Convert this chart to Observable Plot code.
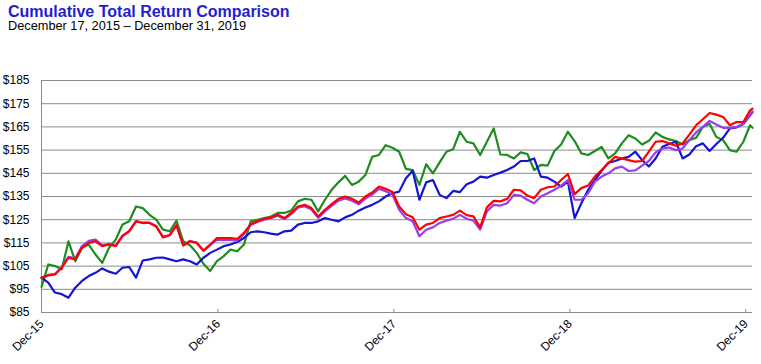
<!DOCTYPE html>
<html><head><meta charset="utf-8">
<script src="https://cdn.jsdelivr.net/npm/d3@7"></script>
<script src="https://cdn.jsdelivr.net/npm/@observablehq/plot@0.6"></script>
<style>
body{margin:0;background:#fff;font-family:"Liberation Sans",Arial,sans-serif;}
#wrap{position:relative;width:761px;height:364px;overflow:hidden;background:#fff}
#title{position:absolute;left:8px;top:3.5px;font-size:16px;line-height:16px;font-weight:bold;color:#1f1fd0;white-space:nowrap}
#sub{position:absolute;left:8px;top:20px;font-size:12.75px;line-height:12.75px;color:#000;white-space:nowrap}
#chart{position:absolute;left:0;top:36px}
</style></head><body>
<div id="wrap"><div id="title">Cumulative Total Return Comparison</div><div id="sub">December 17, 2015 – December 31, 2019</div><div id="chart"></div></div>
<script>
// Values sampled every 14 days from Dec 17, 2015; last value is Dec 31, 2019
const greenValues = [96, 105.7, 105, 103.6, 115.7, 107.1, 112.9, 114.3, 110, 106.4, 112.9, 116.4, 122.9, 124.3, 130.7, 130, 127.1, 125,
  120.7, 120, 124.6, 115.7, 114, 110.7, 106, 102.9, 107.1, 109.3, 112.1, 111.4, 114.3, 124.3, 125, 125.7, 126.4, 127.9,
  127.9, 128.9, 132.9, 134, 133.6, 128.6, 133.6, 137.9, 141.1, 143.9, 140, 141.4, 144.3, 152.1, 152.9, 157.1, 156,
  154.3, 146.9, 146.4, 140, 148.9, 145, 149.7, 154.3, 155.4, 162.9, 158.6, 157.9, 152.9, 158.6, 164.3, 153.1, 152.9, 151.4,
  154, 153.3, 146.4, 148.6, 148.3, 154.6, 157.4, 162.9, 158.9, 153.6, 152.9, 154.6, 156.4, 151.4, 153.6, 157.9, 161.4,
  160, 157.4, 159, 162.6, 160.7, 159.6, 158.9, 157.4, 159.3, 160.3, 165, 166.4, 160.7, 159.3, 155, 154.3, 158.6, 165.7, 164.6];
const blueValues = [100, 97.9, 93.6, 92.9, 91.4, 95.7, 98.6, 100.7, 102.1, 104, 102.6, 101.7, 104.3, 104.6, 100, 107.4, 107.9, 108.6,
  108.7, 107.9, 107.1, 107.9, 107.1, 105.7, 108.6, 110.7, 112.1, 113.6, 114.3, 115.4, 117.1, 119.6, 120, 119.6, 119, 118.6,
  120, 120.3, 122.9, 123.6, 123.6, 124.3, 125.7, 125, 124.3, 126, 127.1, 128.9, 130.3, 131.4, 132.9, 135, 136.4,
  137.1, 142.9, 146.1, 133.6, 141.1, 142.1, 135.7, 134.3, 137.4, 136.9, 140.3, 141.4, 143.6, 143.1, 144.3, 145.3, 146.4, 147.9,
  150.3, 150.3, 151.4, 143.6, 143.1, 141.4, 139.3, 141.4, 125.7, 132.1, 137.9, 142.1, 146.1, 149.6, 150.3, 151.4, 152.1,
  154.3, 150.7, 147.9, 151.4, 156.4, 157.6, 158.6, 151.4, 153.1, 156.7, 157.9, 154.6, 157.6, 160.3, 164.4, 164.8, 166.2, 170, 171.4];
const purpleValues = [100, 101.2, 101.6, 104.6, 109, 108.4, 113.6, 115.9, 116.4, 114, 114.6, 113.9, 118.1, 120.2, 124.4, 123.7, 123.7, 122.3,
  117.6, 118.4, 122.7, 114, 115.8, 115.1, 111.6, 114, 116.4, 116.3, 116.3, 116, 118.8, 122.7, 124, 125, 125.6, 126.7,
  125.3, 127.4, 130.2, 130.8, 129.4, 125.8, 128.6, 131, 133.2, 134.2, 133.2, 131.6, 134.1, 135.8, 138.3, 137.3, 135.8,
  129.3, 125.7, 124.3, 117.9, 120.7, 121.7, 123.6, 124.6, 125.4, 127.1, 125.4, 124.6, 120.7, 128.6, 131.4, 131.1, 132.1, 135.7,
  135.4, 133.6, 132.1, 135, 136.4, 137.9, 139.7, 142.1, 133.6, 133.6, 136.4, 141.4, 143.6, 145, 147.1, 147.9, 146,
  146.3, 148.3, 150.3, 154, 155.7, 156.1, 155, 155.7, 159.3, 162.6, 165, 167.6, 166, 164.6, 164.6, 165, 166.4, 170.3, 171.7];
const redValues = [100, 101, 101.4, 104.3, 108.6, 107.9, 112.9, 115, 115.7, 113.6, 114.3, 113.6, 117.9, 120, 124.3, 123.6, 123.6, 122.1,
  117.4, 118.3, 122.6, 113.9, 115.7, 115, 111.7, 114.3, 117.1, 117.1, 117.1, 116.7, 119.3, 123.1, 124.3, 125.4, 126, 127.1,
  125.7, 127.9, 130.7, 131.4, 130, 126.4, 129.3, 131.7, 134, 135, 134, 132.4, 135, 136.7, 139.3, 138.3, 136.9,
  130.7, 127.4, 126.1, 120.7, 122.9, 123.6, 125.7, 126.4, 127.1, 128.9, 127, 126.4, 121.7, 130.3, 133.1, 132.9, 134, 137.9,
  137.6, 135.4, 134.3, 137.9, 139, 139.3, 142.1, 144.7, 136, 138.6, 139.7, 143.6, 146.4, 149.3, 152.1, 151.4, 150.7,
  150, 150.3, 154.3, 158.6, 158.9, 157.9, 156.9, 157.9, 161.7, 165.7, 168.3, 171, 170.3, 169.3, 165.7, 167.1, 167.1, 172.1, 172.9];

const yTicks = [85, 95, 105, 115, 125, 135, 145, 155, 165, 175, 185];
const xLabels = ["Dec-15", "Dec-16", "Dec-17", "Dec-18", "Dec-19"];

const series = [
  {name: "green", values: greenValues, color: "#1e8c1e"},
  {name: "blue", values: blueValues, color: "#1414d2"},
  {name: "purple", values: purpleValues, color: "#9a3cf0"},
  {name: "red", values: redValues, color: "#ff0000"}
];

const start = new Date(Date.UTC(2015, 11, 17));
const end = new Date(Date.UTC(2019, 11, 31));
const n = greenValues.length;
const dates = d3.range(n).map(i => i < n - 1 ? d3.utcDay.offset(start, 14 * i) : end);
const xTickDates = xLabels.map((_, i) => new Date(Date.UTC(2015 + i, 11, 17)));

const lineMarks = series.map(s =>
  Plot.line(s.values.map((v, i) => ({date: dates[i], value: v})),
    {x: "date", y: "value", stroke: s.color, strokeWidth: 2.2, strokeLinejoin: "round"}));

const chart = Plot.plot({
  width: 761, height: 328,
  marginTop: 44, marginBottom: 52, marginLeft: 41, marginRight: 9,
  style: {fontFamily: "'Liberation Sans', Arial, sans-serif", fontSize: "12px", color: "#000", background: "#fff", overflow: "visible"},
  x: {type: "utc", domain: [start, end], axis: null, label: null},
  y: {domain: [85, 185], axis: null, label: null},
  marks: [
    Plot.ruleY(yTicks, {stroke: "#8c8c8c", strokeWidth: 1}),
    Plot.ruleX([start], {y1: 85, y2: 185, stroke: "#8c8c8c", strokeWidth: 1}),
    Plot.ruleX(xTickDates.slice(1), {y1: 85, y2: 86.3, stroke: "#8c8c8c", strokeWidth: 1}),
    ...lineMarks,
    Plot.axisY({ticks: yTicks, tickSize: 0, tickPadding: 12, tickFormat: d => "$" + d, fontSize: 12, label: null}),
    Plot.text(xTickDates, {x: d => d, frameAnchor: "bottom", text: (d, i) => xLabels[i], rotate: -45,
      textAnchor: "end", lineAnchor: "bottom", dx: 3, dy: 12, fontSize: 12, fill: "#000"})
  ]
});
document.getElementById("chart").appendChild(chart);
</script>
</body></html>
